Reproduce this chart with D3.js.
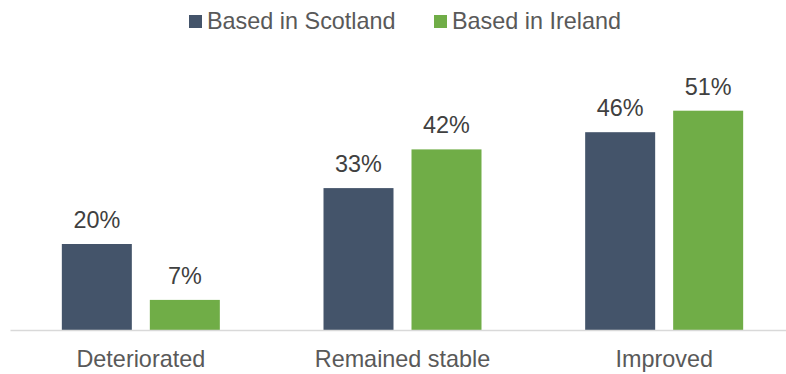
<!DOCTYPE html>
<html>
<head>
<meta charset="utf-8">
<script src="https://cdn.jsdelivr.net/npm/d3@7"></script>
<style>
  html, body { margin: 0; padding: 0; background: #fff; }
  svg { display: block; font-family: "Liberation Sans", Arial, sans-serif; }
</style>
</head>
<body>
<svg id="chart" width="786" height="374"></svg>
<script>
// Change in situation, by where the respondent is based
const categories = ["Deteriorated", "Remained stable", "Improved"];
const seriesNames = ["Based in Scotland", "Based in Ireland"];
const scotland = [20, 33, 46];
const ireland = [7, 42, 51];
const seriesColors = ["#44546A", "#70AD47"];

const svg = d3.select("#chart");
const textColor = "#595959";
const valueColor = "#404040";
const fontSize = 23.4;
const baseline = 330;

const values = [scotland, ireland];

// Group scale and within-group scale
const x0 = d3.scaleBand().domain(categories).range([10, 795]).padding(0);
const pairWidth = 158;
const x1 = d3.scaleBand().domain(seriesNames).range([0, pairWidth])
  .paddingInner(18 / 88).paddingOuter(0);
const y = d3.scaleLinear().domain([0, 60]).range([baseline, baseline - 258]);

// Bars and value labels
categories.forEach((cat, ci) => {
  const gx = x0(cat) + x0.bandwidth() / 2 - pairWidth / 2;
  seriesNames.forEach((s, si) => {
    const v = values[si][ci];
    const bx = gx + x1(s);
    svg.append("rect")
      .attr("x", bx)
      .attr("y", y(v))
      .attr("width", x1.bandwidth())
      .attr("height", y(0) - y(v))
      .attr("fill", seriesColors[si]);
    svg.append("text")
      .attr("x", bx + x1.bandwidth() / 2)
      .attr("y", y(v) - 16)
      .attr("text-anchor", "middle")
      .attr("font-size", fontSize)
      .attr("fill", valueColor)
      .text(v + "%");
  });
});

// Category axis
const xAxis = d3.axisBottom(x0).tickSize(0).tickPadding(0);
const axisG = svg.append("g").attr("transform", `translate(0,${baseline})`).call(xAxis);
axisG.select(".domain").attr("stroke", "#d9d9d9").attr("stroke-width", 1.3);
axisG.selectAll(".tick text")
  .attr("y", 37)
  .attr("dy", 0)
  .attr("font-size", fontSize)
  .attr("font-family", "Liberation Sans, Arial, sans-serif")
  .attr("fill", textColor);

// Legend
const legendItems = [
  { name: seriesNames[0], color: seriesColors[0], x: 189 },
  { name: seriesNames[1], color: seriesColors[1], x: 434 }
];
legendItems.forEach(d => {
  svg.append("rect")
    .attr("x", d.x).attr("y", 15)
    .attr("width", 13).attr("height", 13)
    .attr("fill", d.color);
  svg.append("text")
    .attr("x", d.x + 18).attr("y", 29)
    .attr("font-size", fontSize)
    .attr("fill", textColor)
    .text(d.name);
});
</script>
</body>
</html>
